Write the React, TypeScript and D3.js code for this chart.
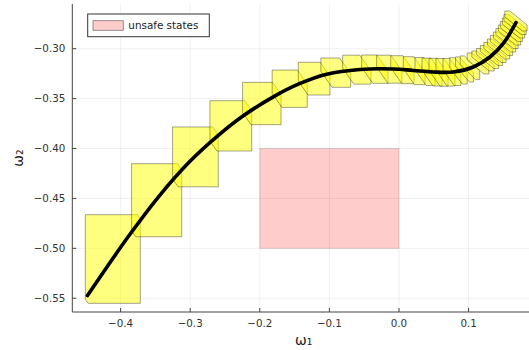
import React from "react";
import * as d3 from "d3";

const W = 529;
const H = 350;

const xTicks = [-0.4, -0.3, -0.2, -0.1, 0.0, 0.1];
const yTicks = [-0.55, -0.5, -0.45, -0.4, -0.35, -0.3];

// trajectory (black line)
const trajX = [-0.4476, -0.3889, -0.3458, -0.3003, -0.2596, -0.2237, -0.1806, -0.1422, -0.1039, -0.056, -0.0082, 0.0205, 0.0493, 0.078, 0.1068, 0.1307, 0.1499, 0.1681];
const trajY = [-0.5473, -0.4882, -0.4486, -0.4128, -0.3868, -0.3672, -0.3482, -0.3348, -0.3255, -0.3208, -0.3203, -0.3218, -0.3233, -0.3233, -0.3183, -0.3083, -0.2947, -0.2739];

// reach sets: center, bounding half-extents, diagonal generator
const setCx = [-0.4112, -0.3482, -0.2925, -0.2416, -0.1971, -0.157, -0.1219, -0.0908, -0.0606, -0.0347, -0.0139, 0.0048, 0.0218, 0.0374, 0.0474, 0.0568, 0.0668, 0.0761, 0.0855, 0.0941, 0.102, 0.1135, 0.1207, 0.1272, 0.1329, 0.1379, 0.143, 0.1473, 0.1516, 0.1552, 0.1588, 0.1616, 0.1645, 0.1667, 0.1681];
const setCy = [-0.5107, -0.4518, -0.4084, -0.3773, -0.3549, -0.3401, -0.33, -0.324, -0.321, -0.3205, -0.3205, -0.321, -0.322, -0.3228, -0.3234, -0.3236, -0.3236, -0.3233, -0.3222, -0.3208, -0.319, -0.3148, -0.3123, -0.3098, -0.3068, -0.3038, -0.3003, -0.2968, -0.2933, -0.2898, -0.2863, -0.2828, -0.2793, -0.2758, -0.2722];
const setHx = [0.0395, 0.036, 0.0328, 0.03, 0.0276, 0.0252, 0.0228, 0.0214, 0.0203, 0.0189, 0.0182, 0.0167, 0.0156, 0.0144, 0.0144, 0.0137, 0.0137, 0.0129, 0.0125, 0.0128, 0.014, 0.0155, 0.016, 0.016, 0.016, 0.016, 0.016, 0.016, 0.016, 0.016, 0.016, 0.016, 0.016, 0.016, 0.016];
const setHy = [0.0444, 0.0366, 0.03, 0.0252, 0.0212, 0.0187, 0.0164, 0.0147, 0.0145, 0.0142, 0.014, 0.014, 0.014, 0.014, 0.014, 0.014, 0.0138, 0.0136, 0.0132, 0.0126, 0.0118, 0.0105, 0.01, 0.01, 0.01, 0.01, 0.01, 0.01, 0.01, 0.01, 0.01, 0.01, 0.01, 0.01, 0.01];
const setGx = [0.002, 0.003, 0.004, 0.005, 0.006, 0.007, 0.007, 0.008, 0.008, 0.008, 0.008, 0.008, 0.008, 0.008, 0.008, 0.008, 0.008, 0.008, 0.009, 0.01, 0.011, 0.012, 0.0125, 0.0125, 0.0125, 0.0125, 0.0125, 0.0125, 0.0125, 0.0125, 0.0125, 0.0125, 0.0125, 0.0125, 0.0125];
const setGy = [0.002, 0.003, 0.004, 0.005, 0.006, 0.007, 0.007, 0.008, 0.008, 0.008, 0.008, 0.008, 0.008, 0.008, 0.008, 0.008, 0.008, 0.008, 0.008, 0.008, 0.0075, 0.007, 0.007, 0.007, 0.007, 0.007, 0.007, 0.007, 0.007, 0.007, 0.007, 0.007, 0.007, 0.007, 0.007];

const unsafeX = [-0.2, 0.0];
const unsafeY = [-0.5, -0.4];
const legendLabel = "unsafe states";

const FONT = "DejaVu Sans, sans-serif";

export default function App() {
  const plotL = 72.3, plotR = 529, plotT = 4, plotB = 312;
  const x = d3.scaleLinear().domain([-0.4694, 0.1868]).range([plotL, plotR]);
  const y = d3.scaleLinear().domain([-0.5638, -0.2552]).range([plotB, plotT]);
  const fx = d3.format(".1f");
  const fy = d3.format(".2f");

  const polys = setCx.map((cx, i) => {
    const g1 = [setHx[i] - setGx[i], 0];
    const g2 = [0, setHy[i] - setGy[i]];
    const g3 = [setGx[i], -setGy[i]];
    const pts: [number, number][] = [];
    for (const a of [-1, 1])
      for (const b of [-1, 1])
        for (const c of [-1, 1]) {
          const px = cx + a * g1[0] + b * g2[0] + c * g3[0];
          const py = setCy[i] + a * g1[1] + b * g2[1] + c * g3[1];
          pts.push([x(px), y(py)]);
        }
    const hull = d3.polygonHull(pts) || pts;
    return "M" + hull.map((p) => p.join(",")).join("L") + "Z";
  });

  const line = d3
    .line<number>()
    .x((d, i) => x(trajX[i]))
    .y((d, i) => y(trajY[i]))
    .curve(d3.curveCatmullRom.alpha(0.5));
  const trajPath = line(trajX) || "";

  return (
    <svg width={W} height={H} style={{ position: "absolute", left: 0, top: 0 }} fontFamily={FONT}>
      <rect x={0} y={0} width={W} height={H} fill="#fff" />
      {/* grid */}
      {xTicks.map((t) => (
        <line key={"gx" + t} x1={x(t)} x2={x(t)} y1={plotT} y2={plotB} stroke="#000" strokeOpacity={0.1} strokeWidth={0.6} />
      ))}
      {yTicks.map((t) => (
        <line key={"gy" + t} x1={plotL} x2={plotR} y1={y(t)} y2={y(t)} stroke="#000" strokeOpacity={0.1} strokeWidth={0.6} />
      ))}
      {/* unsafe region */}
      <rect
        x={x(unsafeX[0])}
        y={y(unsafeY[1])}
        width={x(unsafeX[1]) - x(unsafeX[0])}
        height={y(unsafeY[0]) - y(unsafeY[1])}
        fill="#ff0000"
        fillOpacity={0.2}
        stroke="#000"
        strokeOpacity={0.12}
        strokeWidth={1}
      />
      {/* reach sets */}
      {polys.map((d, i) => (
        <path key={"s" + i} d={d} fill="#ffff00" fillOpacity={0.5} stroke="#000" strokeOpacity={0.4} strokeWidth={0.9} />
      ))}
      {/* trajectory */}
      <path d={trajPath} fill="none" stroke="#000" strokeWidth={3.6} strokeLinecap="round" />
      {/* axes */}
      <line x1={plotL} x2={plotL} y1={plotT} y2={plotB} stroke="#444" strokeWidth={1} />
      <line x1={plotL} x2={plotR} y1={plotB} y2={plotB} stroke="#444" strokeWidth={1} />
      {xTicks.map((t) => (
        <g key={"xt" + t}>
          <line x1={x(t)} x2={x(t)} y1={plotB} y2={plotB - 4} stroke="#444" strokeWidth={1} />
          <text x={x(t)} y={plotB + 15} textAnchor="middle" fontSize={10.3} fill="#333">
            {fx(t)}
          </text>
        </g>
      ))}
      {yTicks.map((t) => (
        <g key={"yt" + t}>
          <line x1={plotL} x2={plotL + 4} y1={y(t)} y2={y(t)} stroke="#444" strokeWidth={1} />
          <text x={plotL - 7} y={y(t)} dy="0.35em" textAnchor="end" fontSize={10.3} fill="#333">
            {fy(t)}
          </text>
        </g>
      ))}
      {/* axis labels */}
      <text x={(plotL + plotR) / 2 + 3} y={345} textAnchor="middle" fontSize={14} fill="#222">
        ω₁
      </text>
      <text transform={`translate(23, ${(plotT + plotB) / 2}) rotate(-90)`} textAnchor="middle" fontSize={14} fill="#222">
        ω₂
      </text>
      {/* legend */}
      <rect x={87.7} y={14} width={121.6} height={22.7} fill="#fff" stroke="#333" strokeWidth={1} />
      <rect x={93} y={20.7} width={30.3} height={9.6} fill="#ff0000" fillOpacity={0.2} stroke="#000" strokeOpacity={0.5} strokeWidth={0.8} />
      <text x={128.3} y={29.2} fontSize={10.4} fill="#222">
        {legendLabel}
      </text>
    </svg>
  );
}
